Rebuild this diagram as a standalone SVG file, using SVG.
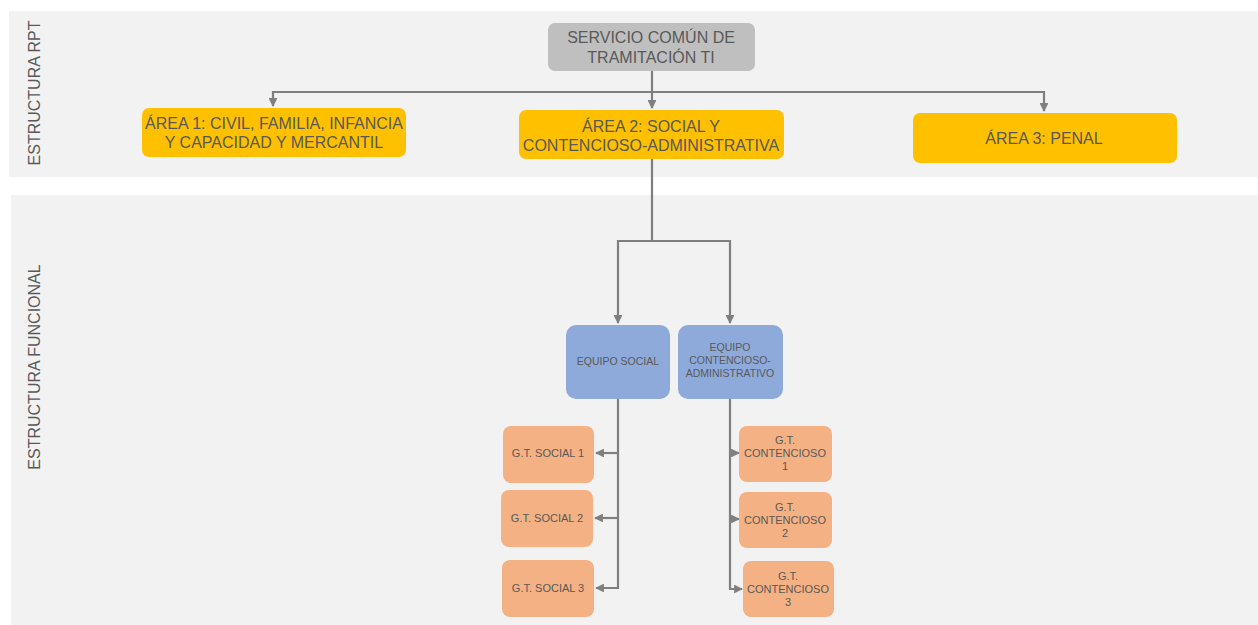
<svg xmlns="http://www.w3.org/2000/svg" width="1258" height="625" viewBox="0 0 1258 625">
<style>
.band{fill:#f2f2f2}
.lbl{font-family:"Liberation Sans",Arial,sans-serif;fill:#595959;text-anchor:middle}
.big{font-size:16px}
.sm{font-size:10.5px}
.gt{font-size:11px}
.side{font-size:16px}
.gray{fill:#bfbfbf}
.yel{fill:#ffc000}
.blue{fill:#8eaadb}
.org{fill:#f4b183}
.ln{fill:none;stroke:#7f7f7f;stroke-width:2.2}
</style>
<defs>
<marker id="ah" viewBox="0 0 10 10" refX="9" refY="5" markerWidth="4" markerHeight="4" orient="auto" markerUnits="strokeWidth">
<path d="M0,0 L10,5 L0,10 z" fill="#7f7f7f"/>
</marker>
</defs>
<rect class="band" x="9" y="11" width="1249" height="166"/>
<rect class="band" x="11" y="195" width="1247" height="430"/>
<text class="lbl side" transform="translate(40,93) rotate(-90)">ESTRUCTURA RPT</text>
<text class="lbl side" transform="translate(40,367) rotate(-90)">ESTRUCTURA FUNCIONAL</text>

<g id="connectors">
<path class="ln" d="M652,71 V108" marker-end="url(#ah)"/>
<path class="ln" d="M652,92 H273 V106" marker-end="url(#ah)"/>
<path class="ln" d="M652,92 H1044 V111" marker-end="url(#ah)"/>
<path class="ln" d="M652,159 V241 H618 V323" marker-end="url(#ah)"/>
<path class="ln" d="M652,241 H730 V323" marker-end="url(#ah)"/>
<path class="ln" d="M618,399 V588 H596" marker-end="url(#ah)"/>
<path class="ln" d="M618,453 H596" marker-end="url(#ah)"/>
<path class="ln" d="M618,518 H595" marker-end="url(#ah)"/>
<path class="ln" d="M730,399 V589 H742" marker-end="url(#ah)"/>
<path class="ln" d="M730,453 H739" marker-end="url(#ah)"/>
<path class="ln" d="M730,519 H739" marker-end="url(#ah)"/>
</g>

<g id="servicio">
<rect class="gray" x="548" y="23" width="207" height="48" rx="7"/>
<text class="lbl big" x="651" y="43">SERVICIO COMÚN DE</text>
<text class="lbl big" x="651" y="63">TRAMITACIÓN TI</text>
</g>
<g id="area1">
<rect class="yel" x="142" y="108" width="264" height="49" rx="7"/>
<text class="lbl big" x="274" y="129">ÁREA 1: CIVIL, FAMILIA, INFANCIA</text>
<text class="lbl big" x="274" y="148">Y CAPACIDAD Y MERCANTIL</text>
</g>
<g id="area2">
<rect class="yel" x="519" y="110" width="265" height="49" rx="7"/>
<text class="lbl big" x="651" y="132">ÁREA 2: SOCIAL Y</text>
<text class="lbl big" x="651" y="151">CONTENCIOSO-ADMINISTRATIVA</text>
</g>
<g id="area3">
<rect class="yel" x="913" y="113" width="264" height="50" rx="7"/>
<text class="lbl big" x="1044" y="144">ÁREA 3: PENAL</text>
</g>
<g id="equipo-social">
<rect class="blue" x="566" y="325" width="104" height="74" rx="10"/>
<text class="lbl sm" x="618" y="365">EQUIPO SOCIAL</text>
</g>
<g id="equipo-contencioso">
<rect class="blue" x="678" y="325" width="105" height="74" rx="10"/>
<text class="lbl sm" x="730" y="351">EQUIPO</text>
<text class="lbl sm" x="730" y="364">CONTENCIOSO-</text>
<text class="lbl sm" x="730" y="377">ADMINISTRATIVO</text>
</g>
<g id="gt-social-1">
<rect class="org" x="503" y="426" width="91" height="57" rx="8"/>
<text class="lbl gt" x="548" y="457">G.T. SOCIAL 1</text>
</g>
<g id="gt-social-2">
<rect class="org" x="501" y="490" width="92" height="57" rx="8"/>
<text class="lbl gt" x="547" y="522">G.T. SOCIAL 2</text>
</g>
<g id="gt-social-3">
<rect class="org" x="502" y="560" width="92" height="57" rx="8"/>
<text class="lbl gt" x="548" y="592">G.T. SOCIAL 3</text>
</g>
<g id="gt-contencioso-1">
<rect class="org" x="739" y="426" width="93" height="56" rx="8"/>
<text class="lbl gt" x="785" y="444">G.T.</text>
<text class="lbl gt" x="785" y="457">CONTENCIOSO</text>
<text class="lbl gt" x="785" y="470">1</text>
</g>
<g id="gt-contencioso-2">
<rect class="org" x="739" y="492" width="93" height="56" rx="8"/>
<text class="lbl gt" x="785" y="511">G.T.</text>
<text class="lbl gt" x="785" y="524">CONTENCIOSO</text>
<text class="lbl gt" x="785" y="537">2</text>
</g>
<g id="gt-contencioso-3">
<rect class="org" x="743" y="561" width="91" height="56" rx="8"/>
<text class="lbl gt" x="788" y="580">G.T.</text>
<text class="lbl gt" x="788" y="593">CONTENCIOSO</text>
<text class="lbl gt" x="788" y="606">3</text>
</g>
</svg>
